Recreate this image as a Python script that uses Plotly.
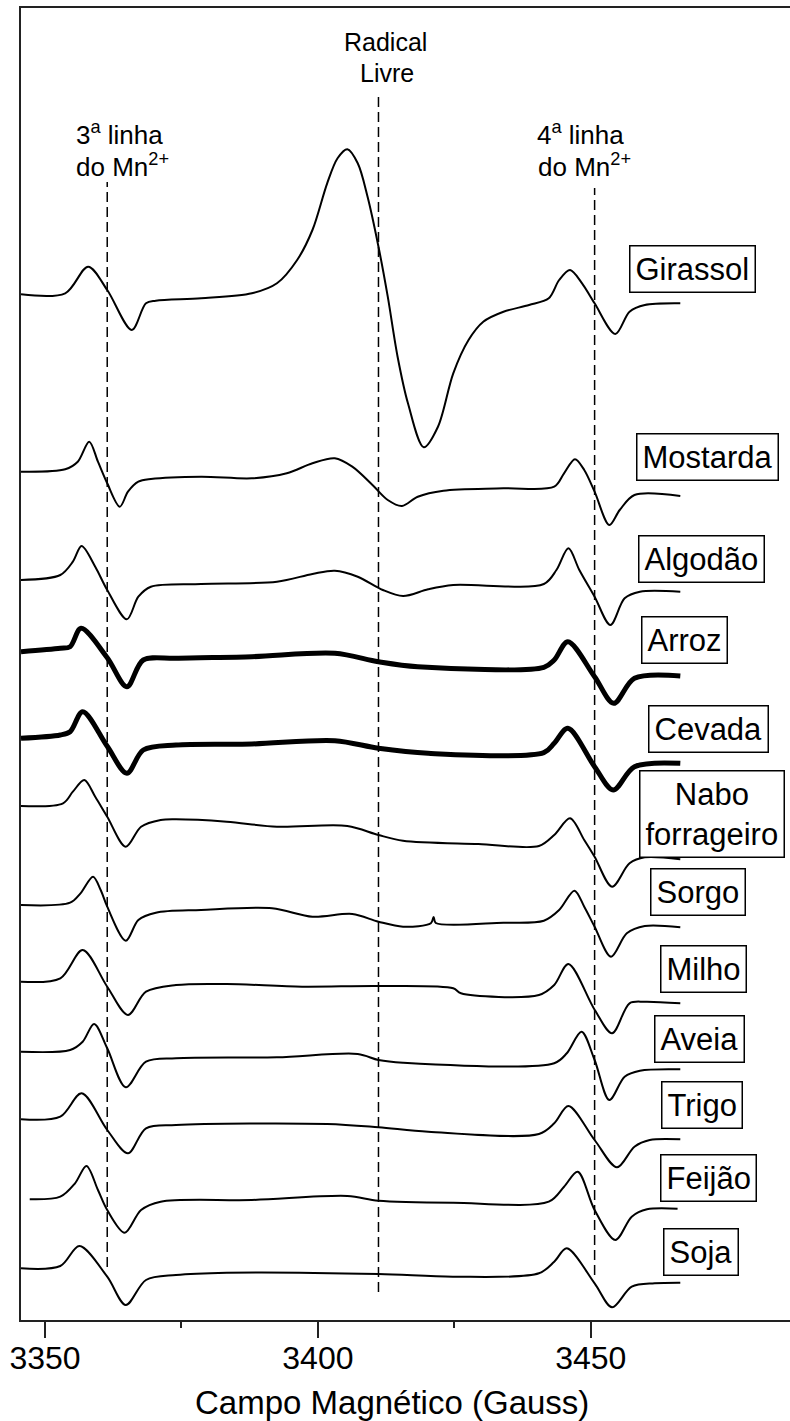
import plotly.graph_objects as go

# ---- EPR spectra: magnetic field (G) and first-derivative signal (a.u.) ----
girassol_campo = [3345.6, 3353.7, 3357.9, 3361.4, 3365.9, 3368.5, 3370.3, 3378.6, 3387.9, 3392.5,
                  3396.2, 3399.0, 3401.7, 3403.6, 3405.4, 3407.3, 3409.1, 3411.1, 3412.8, 3414.6,
                  3416.5, 3419.4, 3422.0, 3424.8, 3427.6, 3430.3, 3434.0, 3438.7, 3442.3, 3444.2,
                  3446.2, 3448.4, 3450.7, 3454.5, 3457.1, 3459.9, 3466.4]
girassol_sinal = [0, 1.0, 27.6, 4.3, -35.7, -9.0, -6.4, -4.0, 1.0, 11.0,
                  34.3, 64.3, 111.0, 136.0, 145.0, 131.0, 97.6, 47.6, -2.4, -62.4,
                  -109.0, -153.0, -132.4, -79.0, -45.7, -27.4, -17.4, -10.7, -4.0, 14.3,
                  24.3, 11.0, -9.0, -39.7, -17.4, -10.7, -9.0]

mostarda_campo = [3345.6, 3353.7, 3356.0, 3358.1, 3359.7, 3361.4, 3363.7, 3365.2, 3367.1, 3369.4,
                  3378.6, 3387.9, 3394.3, 3399.0, 3403.1, 3406.3, 3410.0, 3412.8, 3415.4, 3418.3,
                  3423.0, 3434.0, 3443.3, 3445.1, 3447.1, 3448.8, 3450.7, 3453.4, 3455.3, 3458.0,
                  3466.4]
mostarda_sinal = [0, 2.4, 10.0, 30.0, 10.0, -11.6, -35.0, -20.0, -10.0, -7.3,
                  -5.0, -6.6, -1.6, 8.4, 13.4, 5.0, -13.3, -28.3, -34.3, -25.0,
                  -19.0, -16.6, -15.0, -1.6, 12.4, 1.7, -20.0, -53.3, -38.3, -23.3,
                  -24.3]

algodao_campo = [3345.6, 3352.8, 3355.1, 3356.7, 3359.2, 3361.4, 3365.0, 3367.1, 3369.4, 3378.6,
                 3392.5, 3399.0, 3403.1, 3407.3, 3411.9, 3415.6, 3420.2, 3424.8, 3441.4, 3443.7,
                 3445.9, 3447.9, 3450.7, 3453.6, 3456.2, 3459.0, 3466.4]
algodao_sinal = [0, 5.0, 18.3, 34.0, 13.3, -10.0, -39.3, -16.7, -6.7, -4.0,
                 -1.7, 6.0, 9.3, 3.3, -10.0, -16.0, -9.3, -5.0, -4.0, 10.0,
                 31.7, 10.0, -16.7, -45.0, -18.3, -11.7, -11.7]

arroz_campo = [3345.6, 3352.8, 3354.6, 3356.6, 3361.4, 3365.0, 3368.0, 3374.0, 3387.9, 3403.1,
               3411.1, 3418.3, 3441.4, 3443.3, 3445.8, 3450.7, 3454.2, 3458.0, 3466.4]
arroz_sinal = [0, 3.4, 5.0, 23.4, -6.0, -35.0, -8.3, -6.6, -5.0, -1.6,
               -10.0, -15.0, -15.6, -8.3, 10.0, -25.0, -51.6, -26.6, -24.3]

cevada_campo = [3345.6, 3352.8, 3354.6, 3356.9, 3361.4, 3365.0, 3368.0, 3374.0, 3387.9, 3403.1,
                3411.1, 3420.2, 3441.4, 3443.3, 3445.8, 3450.7, 3454.1, 3458.0, 3466.4]
cevada_sinal = [0, 3.3, 6.6, 26.6, -8.0, -35.0, -11.7, -6.7, -5.7, -2.4,
                -10.0, -15.0, -14.4, -5.0, 10.0, -28.4, -51.7, -28.4, -25.0]

nabo_campo = [3345.6, 3353.3, 3355.1, 3357.2, 3359.2, 3361.4, 3364.8, 3367.6, 3371.2, 3374.0,
              3383.3, 3392.5, 3405.4, 3411.1, 3415.6, 3429.4, 3440.5, 3443.3, 3446.2, 3448.8,
              3450.7, 3453.9, 3457.1, 3459.9, 3466.4]
nabo_sinal = [0, 2.7, 14.3, 26.0, 9.3, -10.7, -40.7, -20.7, -14.0, -13.3,
              -15.7, -20.7, -20.0, -29.0, -34.7, -38.0, -40.0, -29.0, -12.3, -34.0,
              -50.7, -80.7, -57.3, -51.3, -53.3]

sorgo_campo = [3345.6, 3354.6, 3356.5, 3358.8, 3360.2, 3361.4, 3364.8, 3367.1, 3370.3, 3378.6,
               3391.6, 3399.0, 3406.3, 3411.1, 3415.6, 3420.7, 3421.2, 3421.6, 3434.0, 3441.4,
               3444.2, 3447.0, 3448.8, 3450.7, 3453.7, 3456.6, 3459.9, 3466.4]
sorgo_sinal = [0, 2.3, 11.7, 28.3, 15.0, -1.7, -35.7, -15.0, -7.7, -5.0,
               -3.3, -11.7, -9.0, -16.7, -21.7, -18.3, -12.0, -18.0, -17.7, -15.7,
               -5.0, 14.3, -1.7, -21.7, -51.7, -28.3, -21.0, -22.3]

milho_campo = [3345.6, 3352.8, 3356.9, 3361.4, 3365.2, 3368.5, 3374.0, 3383.3, 3397.1, 3411.1,
               3424.8, 3426.2, 3440.5, 3443.3, 3445.9, 3450.7, 3453.9, 3457.1, 3459.9, 3466.4]
milho_sinal = [0, 3.4, 31.7, -5.0, -33.3, -10.0, -3.3, -2.3, -5.0, -4.3,
               -6.6, -11.6, -13.3, -3.3, 17.7, -28.0, -51.6, -21.6, -20.0, -21.6]

aveia_campo = [3345.6, 3354.6, 3356.9, 3359.0, 3361.4, 3364.8, 3368.5, 3374.0, 3392.5, 3407.3,
               3411.1, 3415.6, 3443.3, 3445.6, 3448.3, 3450.7, 3453.4, 3456.2, 3459.0, 3466.4]
aveia_sinal = [0, 1.7, 10.0, 27.7, 3.4, -35.6, -10.0, -6.6, -5.6, -2.3,
               -8.3, -11.0, -11.6, -1.6, 20.0, -8.3, -48.3, -25.0, -19.0, -17.6]

trigo_campo = [3345.6, 3352.8, 3356.7, 3361.4, 3365.2, 3368.5, 3374.0, 3401.7, 3411.1, 3420.2,
               3440.5, 3443.3, 3445.9, 3450.7, 3454.8, 3458.0, 3460.8, 3466.4]
trigo_sinal = [0, 2.6, 26.0, -10.7, -34.0, -9.0, -5.7, -4.7, -8.0, -12.4,
               -14.7, -4.0, 13.3, -20.7, -48.0, -27.4, -20.7, -20.0]

feijao_campo = [3347.2, 3352.8, 3355.5, 3357.6, 3359.7, 3361.4, 3364.6, 3367.6, 3371.2, 3387.9,
                3405.4, 3411.1, 3424.8, 3442.3, 3445.1, 3447.6, 3450.7, 3454.5, 3457.5, 3460.3,
                3465.9]
feijao_sinal = [0, 2.6, 16.0, 33.3, 9.3, -10.7, -33.4, -10.7, -2.4, -0.7,
                3.3, -1.4, -3.4, -2.4, 12.6, 27.6, -10.7, -40.7, -17.4, -10.0,
                -9.4]

soja_campo = [3345.6, 3352.8, 3356.3, 3361.4, 3364.8, 3368.5, 3374.0, 3383.3, 3411.1, 3424.8,
              3440.5, 3443.3, 3445.6, 3450.7, 3453.9, 3457.5, 3461.7, 3466.4]
soja_sinal = [0, 2.3, 22.3, -8.4, -36.7, -11.7, -6.7, -4.4, -5.7, -8.4,
              -5.0, 6.6, 20.0, -15.0, -39.0, -18.4, -15.0, -14.4]

amostras = ["Girassol", "Mostarda", "Algodão", "Arroz", "Cevada", "Nabo<br>forrageiro",
            "Sorgo", "Milho", "Aveia", "Trigo", "Feijão", "Soja"]

# Reference field positions marked by dashed lines (G)
linha_mn3 = 3361.4
radical_livre = 3411.1
linha_mn4 = 3450.7

# Axis ticks
ticks_maiores = [3350, 3400, 3450]
ticks_menores = [3375, 3425]

# ---- presentation ----
espectros = [
    (girassol_campo, girassol_sinal), (mostarda_campo, mostarda_sinal),
    (algodao_campo, algodao_sinal), (arroz_campo, arroz_sinal),
    (cevada_campo, cevada_sinal), (nabo_campo, nabo_sinal),
    (sorgo_campo, sorgo_sinal), (milho_campo, milho_sinal),
    (aveia_campo, aveia_sinal), (trigo_campo, trigo_sinal),
    (feijao_campo, feijao_sinal), (soja_campo, soja_sinal),
]
# vertical stacking offsets of each spectrum
deslocamento = [1025.7, 848.3, 740.0, 668.3, 581.7, 514.0, 415.0, 338.3, 268.3, 200.7, 120.7, 51.7]
espessura = [2, 2, 2, 5, 5, 2, 2, 2, 2, 2, 2, 2]
# label box centres (field, stacked intensity)
rotulo_pos = [(3468.6, 1051), (3471.4, 863), (3470.3, 761), (3467.25, 680.5), (3471.5, 591),
              (3472.2, 506.5), (3469.7, 428), (3470.6, 351), (3469.9, 281), (3470.3, 215),
              (3471.55, 142.5), (3470.2, 68.5)]

FONTE = "Arial, Liberation Sans, sans-serif"

fig = go.Figure()
for (campo, sinal), d, w in zip(espectros, deslocamento, espessura):
    fig.add_trace(go.Scatter(
        x=campo, y=[d + s for s in sinal], mode="lines",
        line=dict(color="black", width=w, shape="spline", smoothing=0.9),
        showlegend=False, hoverinfo="skip"))

# dashed markers
for xpos, y0, y1 in [(linha_mn3, 53, 1138), (radical_livre, 28, 1227), (linha_mn4, 45, 1132)]:
    fig.add_shape(type="line", xref="x", yref="y", x0=xpos, x1=xpos, y0=y0, y1=y1,
                  line=dict(color="black", width=1.5, dash="10px,5px"), layer="below")

anots = []
for nome, (xp, yp) in zip(amostras, rotulo_pos):
    anots.append(dict(x=xp, y=yp, xref="x", yref="y", text=nome, showarrow=False,
                      font=dict(family=FONTE, size=31, color="black"),
                      bordercolor="black", borderwidth=1.5, borderpad=5,
                      bgcolor="white", xanchor="center", yanchor="middle"))

# peak annotations
def texto(x, y, t, anchor="left", size=26):
    return dict(x=x, y=y, xref="x", yref="y", text=t, showarrow=False,
                font=dict(family=FONTE, size=size, color="black"),
                xanchor=anchor, yanchor="middle")

anots += [
    texto(3355.4, 1320 - 133, "3<sup>a</sup> linha"),
    texto(3355.4, 1320 - 165, "do Mn<sup>2+</sup>"),
    texto(3439.7, 1320 - 133, "4<sup>a</sup> linha"),
    texto(3440.0, 1320 - 165, "do Mn<sup>2+</sup>"),
    texto(3412.3, 1320 - 42, "Radical", anchor="center", size=25),
    texto(3412.6, 1320 - 73, "Livre", anchor="center", size=25),
]

anots.append(dict(x=0.4824, y=-0.0625, xref="paper", yref="paper",
                  text="Campo Magnético (Gauss)", showarrow=False,
                  font=dict(family=FONTE, size=33, color="black"),
                  xanchor="center", yanchor="middle"))

fig.update_layout(
    width=790, height=1421,
    margin=dict(l=21, r=0, t=8, b=101),
    paper_bgcolor="white", plot_bgcolor="white",
    annotations=anots,
    xaxis=dict(range=[3345.6, 3486.5], showgrid=False, zeroline=False,
               showline=True, mirror=True, linecolor="#222", linewidth=2,
               ticks="outside", ticklen=16, tickwidth=1.5, tickcolor="#222",
               tickmode="array", tickvals=ticks_maiores,
               ticktext=[str(t) for t in ticks_maiores],
               ticklabelstandoff=-7,
               tickfont=dict(family=FONTE, size=32, color="black"),
               minor=dict(tickmode="array", tickvals=ticks_menores, ticks="outside",
                          ticklen=6, tickwidth=1.5, tickcolor="#222")),
    yaxis=dict(range=[0, 1312], showgrid=False, zeroline=False, showline=True,
               linecolor="#222", linewidth=2, showticklabels=False, ticks=""),
)

fig.write_html("out.html")
